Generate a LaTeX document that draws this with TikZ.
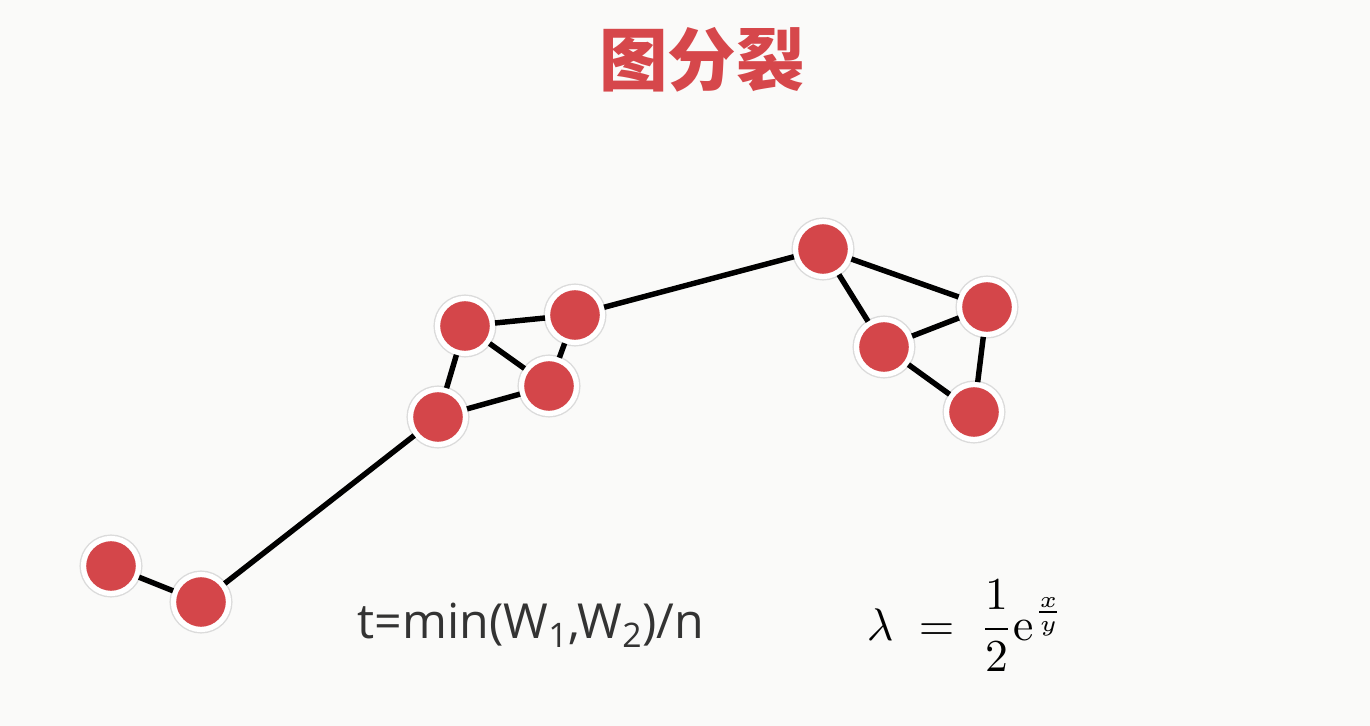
\documentclass[tikz,border=0pt]{standalone}
\usepackage{fontspec}
\usepackage{amsmath}
\usepackage{xcolor}
\usetikzlibrary{positioning, calc}
\newfontfamily\cjk{Noto Sans CJK SC}
\newfontfamily\opensans{Open Sans}
\definecolor{nodered}{RGB}{212,70,74}
\definecolor{titlered}{RGB}{214,71,75}
\definecolor{bggray}{RGB}{250,250,249}
\definecolor{textgray}{RGB}{51,51,51}

\begin{document}
\begin{tikzpicture}[
    x=0.02cm, y=-0.02cm,
    vert/.style={circle, fill=nodered, draw=white, line width=3pt, minimum size=1.1cm, inner sep=0pt, preaction={draw=black!14, line width=4.6pt}},
    edge/.style={draw=black, line width=3.1pt},
    formula/.style={text=textgray, inner sep=0pt}
]
\fill [bggray] (0,0) rectangle (1370,726);
\useasboundingbox (0,0) rectangle (1370,726);
\node (title) at (702,60) {\cjk\bfseries\fontsize{39}{43}\selectfont\color{titlered}图分裂};
% left cluster
\node (a) [vert] at (111,566) {};
\node (b) [vert] at (201,602) {};
\node (c) [vert] at (438,417) {};
\node (d) [vert] at (465,326) {};
\node (e) [vert] at (575,315) {};
\node (f) [vert] at (549,386) {};
% right cluster
\node (g) [vert] at (823,249) {};
\node (h) [vert] at (987,307) {};
\node (i) [vert] at (884,347) {};
\node (j) [vert] at (974,412) {};
\draw [edge] (a) -- (b);
\draw [edge] (b) -- (c);
\draw [edge] (c) -- (d);
\draw [edge] (c) -- (f);
\draw [edge] (d) -- (e);
\draw [edge] (d) -- (f);
\draw [edge] (e) -- (f);
\draw [edge] (e) -- (g);
\draw [edge] (g) -- (h);
\draw [edge] (g) -- (i);
\draw [edge] (i) -- (h);
\draw [edge] (i) -- (j);
\draw [edge] (h) -- (j);
% formulas
\node (thresh) [formula] at (531,625) {\opensans\fontsize{27.5}{31}\selectfont t=min(W\textsubscript{1},W\textsubscript{2})/n};
\node (lambda) [formula, text=black] at (966,626) {\scalebox{2.6}{$\displaystyle \lambda \;=\; \frac{1}{2}\mathrm{e}^{\frac{x}{y}}$}};
\end{tikzpicture}
\end{document}
